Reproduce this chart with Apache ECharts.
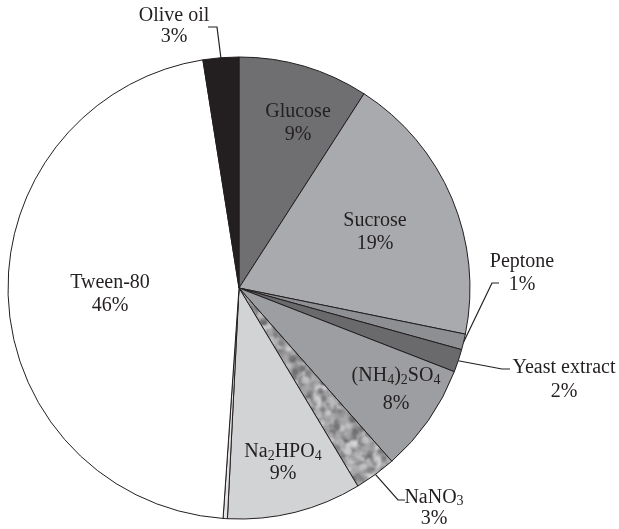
<!DOCTYPE html>
<html><head><meta charset="utf-8">
<script src="https://cdn.jsdelivr.net/npm/echarts@6/dist/echarts.min.js"></script>
<style>html,body{margin:0;padding:0;background:#fff}#c{width:619px;height:529px}</style>
</head><body><div id="c"></div>
<script>
// ---- data ----
const categories = ['Glucose', 'Sucrose', 'Peptone', 'Yeast extract', '(NH4)2SO4', 'NaNO3', 'Na2HPO4', '', 'Tween-80', 'Olive oil'];
const values = [9.1, 19.1, 1.1, 1.6, 7.6, 2.9, 9.4, 0.3, 46.4, 2.5];
const shownPercent = [9, 19, 1, 2, 8, 3, 9, null, 46, 3];

// ---- styling / layout ----
const CX = 239, CY = 288, R = 231;
const INK = '#231f20';
function makeTexture() {
  const c = document.createElement('canvas');
  c.width = 60; c.height = 60;
  const g = c.getContext('2d');
  g.fillStyle = '#a7a7a9'; g.fillRect(0, 0, 60, 60);
  let s = 98765;
  const rnd = () => { s = (s * 1103515245 + 12345) & 0x7fffffff; return s / 0x7fffffff; };
  g.filter = 'blur(0.8px)';
  for (let k = 0; k < 260; k++) {
    const v = Math.floor(70 + rnd() * 170);
    g.fillStyle = 'rgba(' + v + ',' + v + ',' + (v + 2) + ',0.6)';
    g.beginPath();
    const x = rnd() * 60, y = rnd() * 60, r = 1.2 + rnd() * 2.8;
    for (let dx = -60; dx <= 60; dx += 60) for (let dy = -60; dy <= 60; dy += 60) {
      g.moveTo(x + dx + r, y + dy);
      g.arc(x + dx, y + dy, r, 0, Math.PI * 2);
    }
    g.fill();
  }
  return c;
}
const sliceColors = ['#6f6f72', '#a9aaad', '#8e8f92', '#6a6a6d', '#9d9ea1', { image: makeTexture(), repeat: 'repeat' }, '#d2d3d5', '#e4e4e5', '#ffffff', INK];
const labelInside = [true, true, false, false, true, false, true, null, true, false];
const labelLineHeights = [23, 23, 23, 24, 28, 21, 22, null, 23, 21];
const labelOffsets = [[59, -165], [136, -56], [283, -15], [325, 92], [157, 102], [195, 220], [44, 175], null, [-129, 6], [-65, -262]];
const leaderBends = [null, null, [[253, -5], [260, -5]], [[263, 81], [271, 81]], null, [[159, 212], [166, 212]], null, null, null, [[-22, -261], [-31, -261]]];

const total = values.reduce((a, b) => a + b, 0);
function midAngle(i) {
  let acc = 0;
  for (let k = 0; k < i; k++) acc += values[k];
  return ((acc + values[i] / 2) / total) * Math.PI * 2;
}
function sub(name) { return name.replace(/([A-Za-z)])(\d+)/g, '$1{s|$2}'); }

const data = categories.map((n, i) => ({
  name: n,
  value: values[i],
  itemStyle: { color: sliceColors[i] },
  label: { show: labelInside[i] !== null, position: labelInside[i] ? 'inside' : 'outside', lineHeight: labelLineHeights[i] || 23 },
  labelLine: { show: labelInside[i] === false, lineStyle: { color: INK, width: 1.2 } }
}));

const chart = echarts.init(document.getElementById('c'), null, { renderer: 'canvas' });
chart.setOption({
  backgroundColor: '#ffffff',
  animation: false,
  series: [{
    type: 'pie',
    center: [CX, CY],
    radius: R,
    startAngle: 90,
    clockwise: true,
    avoidLabelOverlap: false,
    emphasis: { disabled: true },
    itemStyle: { borderColor: INK, borderWidth: 1 },
    label: {
      color: INK,
      fontFamily: 'Liberation Serif',
      fontSize: 20,
      lineHeight: 23,
      align: 'center',
      formatter: p => sub(p.name) + '\n' + shownPercent[p.dataIndex] + '%',
      rich: { s: { fontFamily: 'Liberation Serif', fontSize: 14, color: INK, lineHeight: 14, padding: [8, 0, 0, 0] } }
    },
    labelLayout: function (p) {
      const i = p.dataIndex;
      const off = labelOffsets[i];
      if (!off) return {};
      const res = { x: CX + off[0], y: CY + off[1], align: 'center', verticalAlign: 'middle' };
      const b = leaderBends[i];
      if (b) {
        const a = midAngle(i);
        res.labelLinePoints = [
          [CX + R * Math.sin(a), CY - R * Math.cos(a)],
          [CX + b[0][0], CY + b[0][1]],
          [CX + b[1][0], CY + b[1][1]]
        ];
      }
      return res;
    },
    data: data
  }]
});
</script>
</body></html>
